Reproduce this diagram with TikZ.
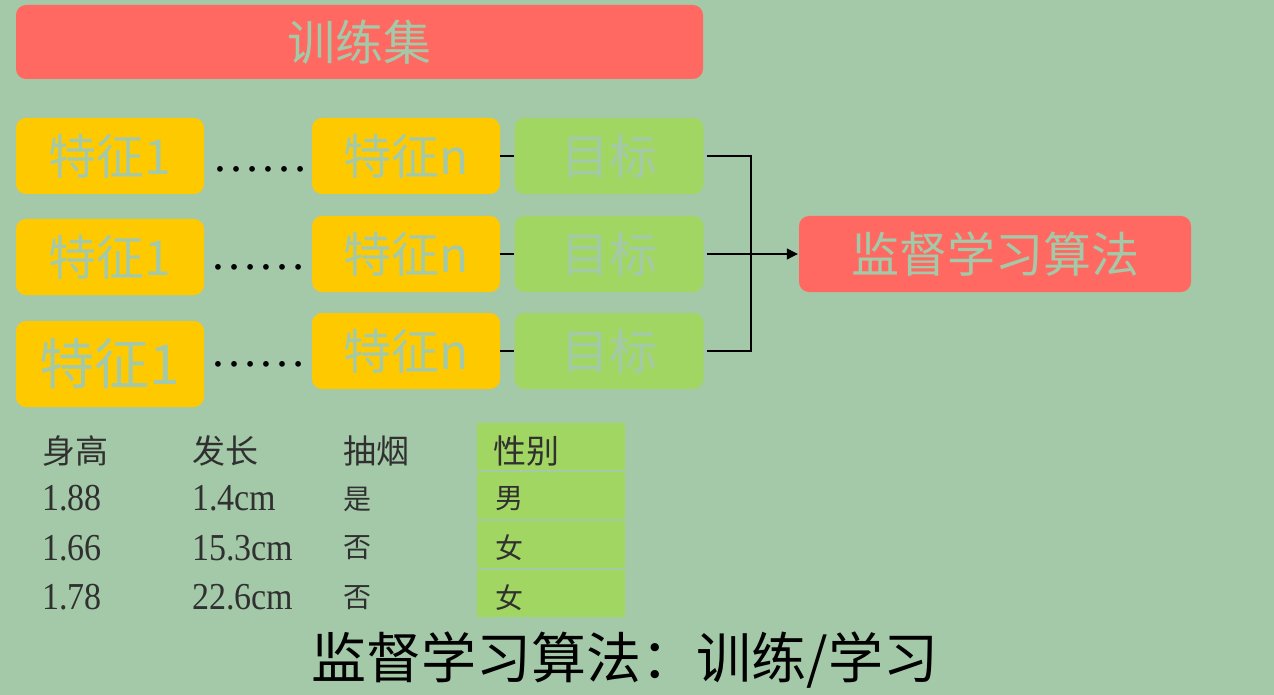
\documentclass[tikz,border=0pt]{standalone}
\usepackage{fontspec}
\setmainfont{Liberation Serif}
\newfontfamily\cjk{Noto Sans CJK SC}
\usetikzlibrary{arrows.meta}
\definecolor{bg}{HTML}{A4C9A9}
\definecolor{redf}{HTML}{FF6961}
\definecolor{yelf}{HTML}{FFC900}
\definecolor{grnf}{HTML}{A2D662}
\definecolor{tabtxt}{HTML}{303030}
\newcommand{\tallnum}[1]{\scalebox{1}[1.12]{#1}}
\begin{document}
\begin{tikzpicture}[x=1pt,y=-1pt,
  box/.style={rectangle, rounded corners=10pt, inner sep=0pt, text=bg,
    font=\cjk\fontsize{48}{48}\selectfont},
  redbox/.style={box, fill=redf},
  yelbox/.style={box, fill=yelf, minimum width=188pt, minimum height=76pt},
  grnbox/.style={box, fill=grnf, minimum width=189pt, minimum height=76pt},
  dots/.style={inner sep=0pt, anchor=base, font=\fontsize{48}{48}\selectfont},
  conn/.style={line width=1.2pt, black},
  cell/.style={rectangle, fill=grnf, inner sep=0pt, minimum width=148pt, minimum height=47pt},
  tcj/.style={inner sep=0pt, anchor=west, text=tabtxt, font=\cjk\fontsize{33}{33}\selectfont},
  tcv/.style={inner sep=0pt, anchor=west, text=tabtxt, font=\cjk\fontsize{28}{28}\selectfont},
  tnum/.style={inner sep=0pt, anchor=west, text=tabtxt, font=\fontsize{34}{34}\selectfont},
]
\useasboundingbox[fill=bg] (0,0) rectangle (1274,695);

% top box
\node[redbox, minimum width=687pt, minimum height=74pt] (train) at (359.5,42) {训练集};

% rows
\node[yelbox] (f1a) at (110,156) {特征1};
\node[yelbox] (fna) at (406,156) {特征n};
\node[grnbox] (tga) at (609,156) {目标};
\node[dots] (da) at (260,171.5) {……};

\node[yelbox] (f1b) at (110,257) {特征1};
\node[yelbox] (fnb) at (406,254) {特征n};
\node[grnbox] (tgb) at (609,254) {目标};
\node[dots] (db) at (258,269.5) {……};

\node[yelbox, minimum height=86pt, font=\cjk\fontsize{55}{55}\selectfont] (f1c) at (110,364) {特征1};
\node[yelbox] (fnc) at (406,351) {特征n};
\node[grnbox] (tgc) at (609,351) {目标};
\node[dots] (dc) at (258,366.5) {……};

% algorithm box
\node[redbox, minimum width=392pt, minimum height=76pt] (alg) at (995,254) {监督学习算法};

% connectors
\draw[conn] (fna.east) -- (tga.west);
\draw[conn] (fnb.east) -- (tgb.west);
\draw[conn] (fnc.east) -- (tgc.west);
\coordinate (j) at (751,254);
\draw[conn, shorten <=3pt] (tga.east) -| (j);
\draw[conn, shorten <=3pt] (tgc.east) -| (j);
\draw[conn, shorten <=3pt, shorten >=1pt, -{Triangle[length=11pt,width=11pt]}] (tgb.east) -- (alg.west);

% table
\node[cell] (c0) at (551,446.5) {};
\node[cell] (c1) at (551,495.5) {};
\node[cell] (c2) at (551,544.5) {};
\node[cell] (c3) at (551,593.5) {};

\node[tcj] (h1) at (42,451) {身高};
\node[tcj] (h2) at (192,451) {发长};
\node[tcj] (h3) at (343,451) {抽烟};
\node[tcj] (h4) at (493,451) {性别};

\node[tnum] (a1) at (42,498) {\tallnum{1.88}};
\node[tnum] (b1) at (192,498) {\tallnum{1.4cm}};
\node[tcv] (s1) at (343,499) {是};
\node[tcv] (g1) at (495,499) {男};

\node[tnum] (a2) at (42,548) {\tallnum{1.66}};
\node[tnum] (b2) at (192,548) {\tallnum{15.3cm}};
\node[tcv] (s2) at (343,548) {否};
\node[tcv] (g2) at (495,548) {女};

\node[tnum] (a3) at (42,597) {\tallnum{1.78}};
\node[tnum] (b3) at (192,597) {\tallnum{22.6cm}};
\node[tcv] (s3) at (343,598) {否};
\node[tcv] (g3) at (495,598) {女};

% caption
\node[inner sep=0pt, font=\cjk\fontsize{55}{55}\selectfont] (cap) at (625,660) {监督学习算法：训练/学习};
\end{tikzpicture}
\end{document}
